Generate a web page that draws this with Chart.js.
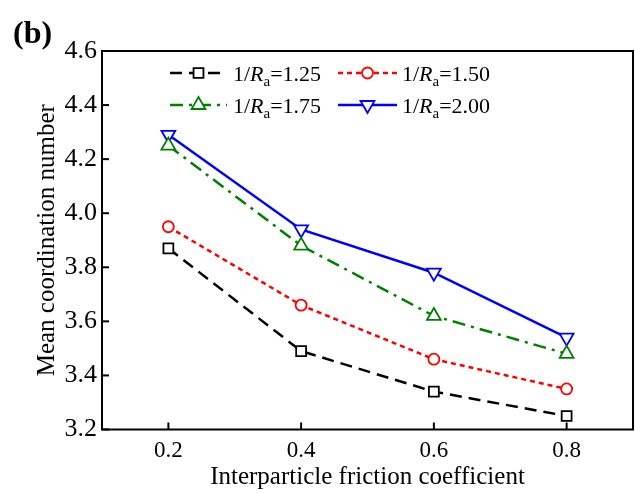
<!DOCTYPE html>
<html>
<head>
<meta charset="utf-8">
<script src="https://cdn.jsdelivr.net/npm/chart.js@4.4.0/dist/chart.umd.min.js"></script>
<style>
html,body{margin:0;padding:0;background:#fff;}
#wrap{position:relative;width:635px;height:493px;}
#letra{position:absolute;left:13px;top:14px;font:bold 32px "Liberation Serif";color:#000;}
</style>
</head>
<body>
<div id="wrap"><canvas id="grafico" width="635" height="493"></canvas><div id="letra">(b)</div></div>
<script>
// datos
const friccion = [0.2, 0.4, 0.6, 0.8];
const ra125 = [3.87, 3.49, 3.34, 3.25];
const ra150 = [3.95, 3.66, 3.46, 3.35];
const ra175 = [4.25, 3.88, 3.62, 3.48];
const ra200 = [4.29, 3.94, 3.78, 3.54];
const etiquetas = ['1.25', '1.50', '1.75', '2.00'];
const xTicks = [0.2, 0.4, 0.6, 0.8];
const yTicks = [3.2, 3.4, 3.6, 3.8, 4.0, 4.2, 4.4, 4.6];

const series = [ra125, ra150, ra175, ra200];
const estilos = [
  {color: '#000000', dash: [12, 7], punto: 'rect', radio: 7, rot: 0},
  {color: '#ff0000', dash: [5, 4], punto: 'circle', radio: 5.5, rot: 0},
  {color: '#008000', dash: [13, 6, 3, 6], punto: 'triangle', radio: 8, rot: 0},
  {color: '#0000ff', dash: [], punto: 'triangle', radio: 8, rot: 180}
];

const datasets = series.map((s, i) => ({
  label: '1/Ra=' + etiquetas[i],
  data: friccion.map((x, j) => ({x: x, y: s[j]})),
  borderColor: estilos[i].color,
  borderWidth: 2.5,
  borderDash: estilos[i].dash,
  pointStyle: estilos[i].punto,
  pointRadius: estilos[i].radio,
  pointRotation: estilos[i].rot,
  pointBackgroundColor: '#ffffff',
  pointBorderColor: estilos[i].color,
  pointBorderWidth: 1.8,
  tension: 0,
  fill: false
}));

// marco y ticks hacia adentro
const marco = {
  id: 'marco',
  afterDraw(chart) {
    const ctx = chart.ctx;
    const a = chart.chartArea;
    const sx = chart.scales.x, sy = chart.scales.y;
    ctx.save();
    ctx.strokeStyle = '#000';
    ctx.lineWidth = 2;
    ctx.setLineDash([]);
    ctx.strokeRect(a.left, a.top, a.right - a.left, a.bottom - a.top);
    xTicks.forEach(v => {
      const px = sx.getPixelForValue(v);
      ctx.beginPath(); ctx.moveTo(px, a.bottom); ctx.lineTo(px, a.bottom - 7); ctx.stroke();
    });
    yTicks.forEach(v => {
      const py = sy.getPixelForValue(v);
      ctx.beginPath(); ctx.moveTo(a.left, py); ctx.lineTo(a.left + 7, py); ctx.stroke();
    });
    ctx.restore();
  }
};

// leyenda con R en cursiva y subindice
const leyenda = {
  id: 'leyenda',
  afterDraw(chart) {
    const ctx = chart.ctx;
    const filas = [73, 105];
    const cols = [[170, 227, 233], [338, 397, 402]];
    datasets.forEach((d, i) => {
      const y = filas[Math.floor(i / 2)];
      const c = cols[i % 2];
      const e = estilos[i];
      ctx.save();
      ctx.strokeStyle = e.color;
      ctx.lineWidth = 2.5;
      ctx.setLineDash(e.dash);
      ctx.beginPath(); ctx.moveTo(c[0], y); ctx.lineTo(c[1], y); ctx.stroke();
      ctx.setLineDash([]);
      ctx.fillStyle = '#fff';
      ctx.lineWidth = 1.8;
      Chart.helpers.drawPoint(ctx, {pointStyle: e.punto, radius: e.radio, rotation: e.rot, borderWidth: 1.8}, (c[0] + c[1]) / 2, y);
      ctx.fillStyle = '#000';
      ctx.textBaseline = 'alphabetic';
      let x = c[2];
      const base = y + 8;
      ctx.font = '22px "Liberation Serif"';
      ctx.fillText('1/', x, base); x += ctx.measureText('1/').width;
      ctx.font = 'italic 22px "Liberation Serif"';
      ctx.fillText('R', x, base); x += ctx.measureText('R').width;
      ctx.font = '15px "Liberation Serif"';
      ctx.fillText('a', x, base + 5); x += ctx.measureText('a').width;
      ctx.font = '22px "Liberation Serif"';
      ctx.fillText('=' + etiquetas[i], x, base);
      ctx.restore();
    });
  }
};

new Chart(document.getElementById('grafico'), {
  type: 'line',
  data: {datasets: datasets},
  options: {
    responsive: false,
    animation: false,
    layout: {autoPadding: false, padding: {top: 51, right: 2, left: 0, bottom: 0}},
    plugins: {legend: {display: false}, tooltip: {enabled: false}},
    scales: {
      x: {
        type: 'linear', min: 0.1, max: 0.9,
        afterBuildTicks: s => { s.ticks = xTicks.map(v => ({value: v})); },
        afterFit: s => { s.height = 63.5; s.paddingLeft = 0; s.paddingRight = 0; },
        grid: {display: false, drawTicks: false},
        border: {display: false},
        ticks: {color: '#000', padding: 8, font: {family: 'Liberation Serif', size: 23}, callback: v => v.toFixed(1)},
        title: {display: true, text: 'Interparticle friction coefficient', color: '#000', padding: 1, font: {family: 'Liberation Serif', size: 25}}
      },
      y: {
        min: 3.2, max: 4.6,
        afterBuildTicks: s => { s.ticks = yTicks.map(v => ({value: v})); },
        afterFit: s => { s.width = 102; s.paddingTop = 0; s.paddingBottom = 0; },
        grid: {display: false, drawTicks: false},
        border: {display: false},
        ticks: {color: '#000', padding: 5, font: {family: 'Liberation Serif', size: 26}, callback: v => v.toFixed(1)},
        title: {display: true, text: 'Mean coordination number', color: '#000', padding: 32, font: {family: 'Liberation Serif', size: 25}}
      }
    }
  },
  plugins: [marco, leyenda]
});
</script>
</body>
</html>
